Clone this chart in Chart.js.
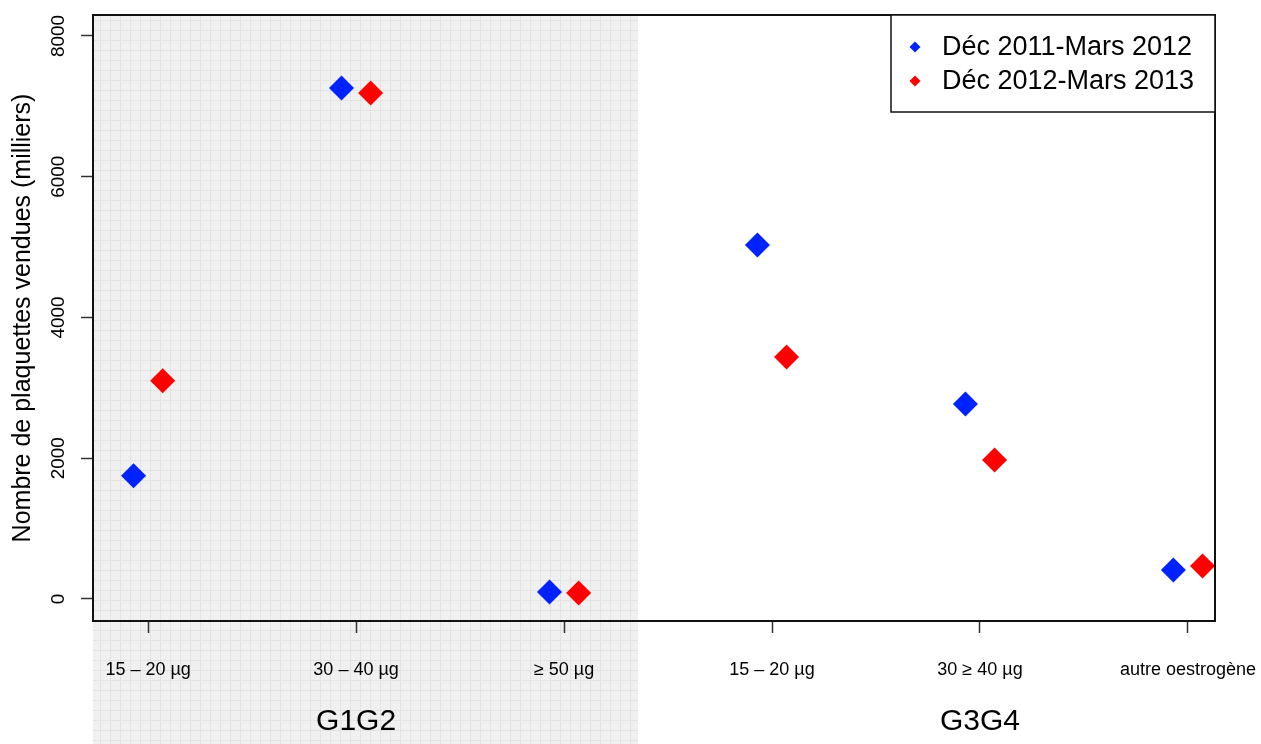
<!DOCTYPE html>
<html>
<head>
<meta charset="utf-8">
<script src="https://cdn.jsdelivr.net/npm/chart.js"></script>
<style>
  html, body { margin: 0; padding: 0; background: #fff; }
  #wrap { width: 1261px; height: 744px; position: relative; }
</style>
</head>
<body>
<div id="wrap"><canvas id="myScatterChart"></canvas></div>
<script>
// x axis: one category per dosage, two groups of pills
const categories = ["15 – 20 µg", "30 – 40 µg", "≥ 50 µg", "15 – 20 µg", "30 ≥ 40 µg", "autre oestrogène"];
const groups = ["G1G2", "G3G4"];
const groupCenters = [2, 5];
const yTicks = [0, 2000, 4000, 6000, 8000];

// packs sold (thousands)
const seriesLabels = ["Déc 2011-Mars 2012", "Déc 2012-Mars 2013"];
const period1 = [1750, 7260, 100, 5030, 2770, 410];
const period2 = [3100, 7190, 85, 3440, 1975, 470];

const colors = ["#0022ff", "#ff0000"];
const shift = 0.07;        // side by side offset of the two periods
const groupSplit = 3.355;  // where the grey G1G2 band stops
const font = "'Liberation Sans', Arial, sans-serif";

function toPoints(values, dx) {
  return values.map((v, i) => ({ x: i + 1 + dx, y: v }));
}

function makePattern(ctx) {
  const c = document.createElement("canvas");
  c.width = 10; c.height = 10;
  const p = c.getContext("2d");
  p.fillStyle = "#f0f0f0";
  p.fillRect(0, 0, 10, 10);
  p.fillStyle = "#e3e3e3";
  p.fillRect(0, 0, 10, 1);
  p.fillRect(0, 0, 1, 10);
  return ctx.createPattern(c, "repeat");
}

// no extra room for the outer tick labels, the plot runs edge to edge
function fixX(height) {
  return (axis) => {
    axis.height = height;
    axis.paddingLeft = 0;
    axis.paddingRight = 0;
  };
}

// grey hatched band behind G1G2, down to the bottom of the page
const shadePlugin = {
  id: "shade",
  beforeDraw(chart) {
    const { ctx, chartArea, scales } = chart;
    const right = scales.x.getPixelForValue(groupSplit);
    ctx.save();
    ctx.fillStyle = makePattern(ctx);
    ctx.fillRect(chartArea.left, chartArea.top, right - chartArea.left, chart.height - chartArea.top);
    ctx.restore();
  }
};

// box around the plot + legend in the top right corner
const framePlugin = {
  id: "frame",
  afterDraw(chart) {
    const { ctx, chartArea } = chart;
    ctx.save();
    ctx.strokeStyle = "#111";
    ctx.lineWidth = 2;
    ctx.strokeRect(chartArea.left, chartArea.top, chartArea.right - chartArea.left, chartArea.bottom - chartArea.top);

    const w = 324, h = 97;
    const left = chartArea.right - w, top = chartArea.top;
    ctx.fillStyle = "#fff";
    ctx.fillRect(left, top, w, h);
    ctx.lineWidth = 1.5;
    ctx.strokeRect(left, top, w, h);
    ctx.font = "27px " + font;
    ctx.textBaseline = "middle";
    chart.data.datasets.forEach((ds, i) => {
      const y = top + 32 + i * 34;
      const x = left + 24;
      ctx.fillStyle = ds.backgroundColor;
      ctx.beginPath();
      ctx.moveTo(x - 5.5, y);
      ctx.lineTo(x, y - 5.5);
      ctx.lineTo(x + 5.5, y);
      ctx.lineTo(x, y + 5.5);
      ctx.closePath();
      ctx.fill();
      ctx.fillStyle = "#000";
      ctx.fillText(ds.label, left + 51, y + 1);
    });
    ctx.restore();
  }
};

const datasets = [period1, period2].map((vals, i) => ({
  label: seriesLabels[i],
  data: toPoints(vals, i === 0 ? -shift : shift),
  backgroundColor: colors[i],
  borderWidth: 0,
  pointStyle: "rectRot",
  pointRadius: 12.5,
  pointHoverRadius: 12.5
}));

new Chart(document.getElementById("myScatterChart"), {
  type: "scatter",
  data: { datasets },
  plugins: [shadePlugin, framePlugin],
  options: {
    responsive: true,
    maintainAspectRatio: false,
    animation: false,
    layout: { padding: { top: 15, right: 46, left: 0, bottom: 0 } },
    plugins: { legend: { display: false }, tooltip: { enabled: false } },
    scales: {
      x: {
        type: "linear",
        position: "bottom",
        min: 0.735,
        max: 6.13,
        afterBuildTicks: (axis) => { axis.ticks = categories.map((c, i) => ({ value: i + 1 })); },
        afterFit: fixX(70),
        grid: { drawOnChartArea: false, tickLength: 12, tickColor: "#333", tickWidth: 1.5 },
        border: { display: false },
        ticks: {
          color: "#000",
          padding: 26,
          maxRotation: 0,
          font: { family: font, size: 18 },
          callback: (v, i) => categories[i]
        }
      },
      x2: {
        type: "linear",
        position: "bottom",
        weight: 1,
        min: 0.735,
        max: 6.13,
        afterBuildTicks: (axis) => { axis.ticks = groupCenters.map(v => ({ value: v })); },
        afterFit: fixX(53),
        grid: { display: false, drawTicks: false },
        border: { display: false },
        ticks: {
          color: "#000",
          padding: 13,
          maxRotation: 0,
          font: { family: font, size: 30 },
          callback: (v, i) => groups[i]
        }
      },
      y: {
        min: -313,
        max: 8298,
        afterBuildTicks: (axis) => { axis.ticks = yTicks.map(v => ({ value: v })); },
        afterFit: (axis) => { axis.width = 93; axis.paddingTop = 0; axis.paddingBottom = 0; },
        grid: { drawOnChartArea: false, tickLength: 12, tickColor: "#333", tickWidth: 1.5 },
        border: { display: false },
        ticks: {
          color: "#000",
          padding: 1,
          minRotation: 90,
          maxRotation: 90,
          crossAlign: "center",
          font: { family: font, size: 19 },
          callback: (v) => String(v)
        },
        title: {
          display: true,
          text: "Nombre de plaquettes vendues (milliers)",
          color: "#000",
          padding: { top: 8, bottom: 0 },
          font: { family: font, size: 25 }
        }
      }
    }
  }
});
</script>
</body>
</html>
